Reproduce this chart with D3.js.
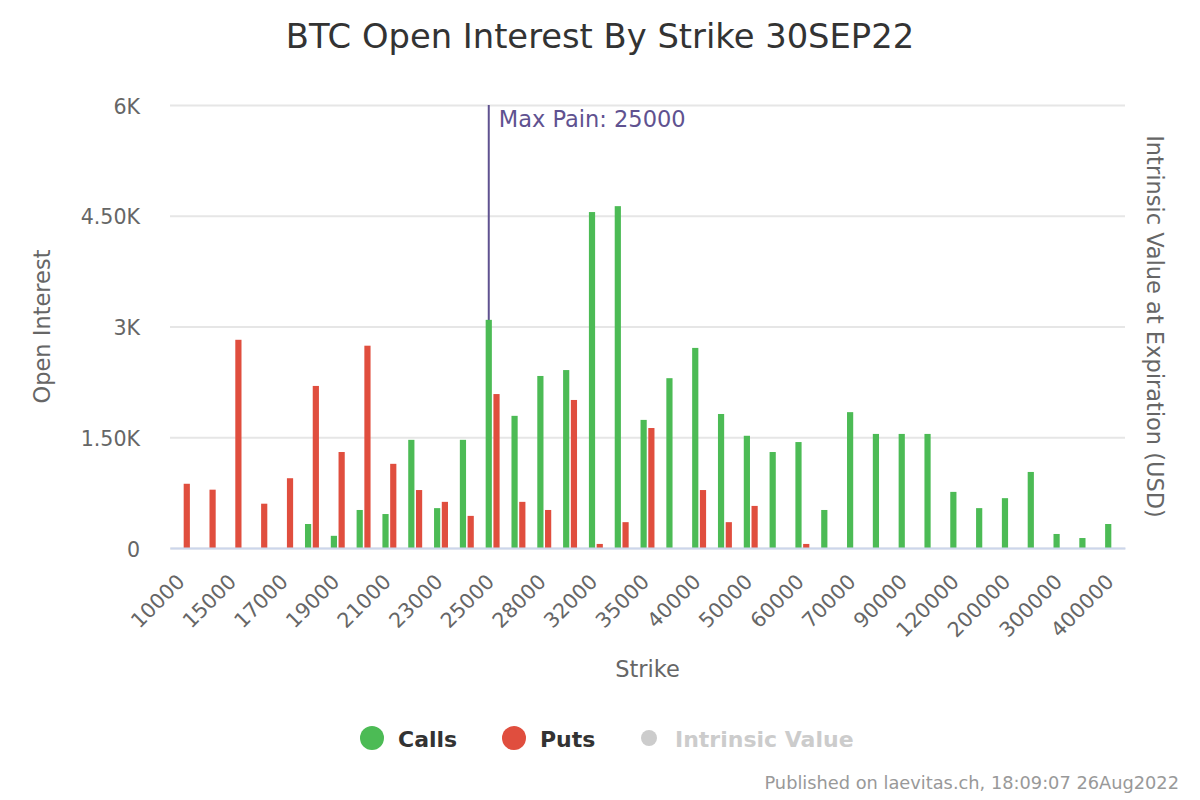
<!DOCTYPE html>
<html>
<head>
<meta charset="utf-8">
<title>BTC Open Interest By Strike 30SEP22</title>
<script src="https://cdn.jsdelivr.net/npm/d3@7"></script>
<style>
  body { margin: 0; background: #fff; }
  svg text { font-family: "DejaVu Sans", sans-serif; }
</style>
</head>
<body>
<script>
// strikes on the category axis
var strikes = [10000, 12000, 15000, 16000, 17000, 18000, 19000, 20000, 21000, 22000,
  23000, 24000, 25000, 26000, 28000, 30000, 32000, 34000, 35000, 36000,
  40000, 45000, 50000, 55000, 60000, 65000, 70000, 80000, 90000, 100000,
  120000, 150000, 200000, 250000, 300000, 350000, 400000]

// open interest
var calls = [0, 0, 0, 0, 0, 325, 165, 515, 460, 1465,
  540, 1465, 3090, 1790, 2330, 2410, 4550, 4630, 1735, 2300,
  2710, 1815, 1520, 1300, 1435, 515, 1840, 1545, 1545, 1545,
  760, 540, 675, 1030, 190, 135, 325]
var puts = [870, 790, 2820, 600, 945, 2195, 1300, 2740, 1140, 785,
  625, 435, 2085, 625, 515, 2005, 55, 350, 1625, 0,
  785, 350, 570, 0, 55, 0, 0, 0, 0, 0,
  0, 0, 0, 0, 0, 0, 0]

var yTicks = [0, 1500, 3000, 4500, 6000]
var yTickLabels = ["0", "1.50K", "3K", "4.50K", "6K"]
var maxPain = 25000
var seriesNames = ["Calls", "Puts", "Intrinsic Value"]

var W = 1200, H = 800
var plotL = 170, plotR = 1125, plotT = 105, plotB = 548
var green = "#4cbb55", red = "#e04e3e"

var svg = d3.select("body").append("svg").attr("width", W).attr("height", H)

var x0 = d3.scaleBand().domain(strikes).range([plotL, plotR])
var x1 = d3.scaleBand().domain(["calls", "puts"]).range([0, x0.bandwidth()])
  .paddingInner(0.2).paddingOuter(0.766)
var y = d3.scaleLinear().domain([0, 6000]).range([plotB, plotT])

// y axis + grid
var yAxis = svg.append("g").attr("transform", "translate(" + plotL + ",0)")
  .call(d3.axisLeft(y).tickValues(yTicks)
    .tickFormat(function(d, i) { return yTickLabels[i] })
    .tickSize(-(plotR - plotL)).tickPadding(30))
yAxis.select(".domain").remove()
yAxis.selectAll("line").attr("stroke", "#e6e6e6").attr("stroke-width", 2)
yAxis.selectAll("text").attr("fill", "#666").attr("dy", 8).style("font-size", "20.6px")

// max pain plot line (behind the bars)
var mpX = x0(maxPain) + x1("calls") + x1.bandwidth() / 2
svg.append("line")
  .attr("x1", mpX).attr("x2", mpX).attr("y1", plotT).attr("y2", plotB)
  .attr("stroke", "#5f5290").attr("stroke-width", 2)
svg.append("text")
  .attr("x", mpX + 10).attr("y", plotT + 22)
  .attr("fill", "#5f5290").style("font-size", "22.5px")
  .text("Max Pain: " + maxPain)

// bars
svg.selectAll(".call")
  .data(strikes)
  .enter()
  .append("rect")
  .attr("class", "call")
  .attr("x", function(d) { return x0(d) + x1("calls") })
  .attr("y", function(d, i) { return y(calls[i]) })
  .attr("width", x1.bandwidth())
  .attr("height", function(d, i) { return plotB - y(calls[i]) })
  .attr("fill", green)

svg.selectAll(".put")
  .data(strikes)
  .enter()
  .append("rect")
  .attr("class", "put")
  .attr("x", function(d) { return x0(d) + x1("puts") })
  .attr("y", function(d, i) { return y(puts[i]) })
  .attr("width", x1.bandwidth())
  .attr("height", function(d, i) { return plotB - y(puts[i]) })
  .attr("fill", red)

// x axis
var xAxis = svg.append("g").attr("transform", "translate(0," + plotB + ")")
  .call(d3.axisBottom(x0)
    .tickValues(strikes.filter(function(d, i) { return i % 2 == 0 }))
    .tickSize(0).tickSizeOuter(0))
xAxis.select(".domain").attr("stroke", "#ccd6eb").attr("stroke-width", 2)
xAxis.selectAll("text")
  .attr("fill", "#666").attr("y", 0).attr("dy", 0)
  .attr("text-anchor", "end")
  .attr("transform", "translate(3,35) rotate(-45)")
  .style("font-size", "20.6px")

// titles
svg.append("text").attr("x", 600).attr("y", 48).attr("text-anchor", "middle")
  .attr("fill", "#333").style("font-size", "33.75px")
  .text("BTC Open Interest By Strike 30SEP22")

svg.append("text").attr("x", (plotL + plotR) / 2).attr("y", 677).attr("text-anchor", "middle")
  .attr("fill", "#666").style("font-size", "22.5px").text("Strike")

svg.append("text").attr("transform", "translate(50," + (plotT + plotB) / 2 + ") rotate(-90)")
  .attr("text-anchor", "middle").attr("fill", "#666").style("font-size", "22.5px")
  .text("Open Interest")

svg.append("text").attr("transform", "translate(1147," + (plotT + plotB) / 2 + ") rotate(90)")
  .attr("text-anchor", "middle").attr("fill", "#666").style("font-size", "22.5px")
  .text("Intrinsic Value at Expiration (USD)")

// legend
var legendX = [372, 514, 649]
var legendColors = [green, red, "#cccccc"]
var legendR = [12, 12, 8]
var legend = svg.selectAll(".legend")
  .data(seriesNames)
  .enter()
  .append("g")
  .attr("class", "legend")
legend.append("circle")
  .attr("cx", function(d, i) { return legendX[i] })
  .attr("cy", 738)
  .attr("r", function(d, i) { return legendR[i] })
  .attr("fill", function(d, i) { return legendColors[i] })
legend.append("text")
  .attr("x", function(d, i) { return legendX[i] + 26 })
  .attr("y", 747)
  .attr("fill", function(d, i) { return i == 2 ? "#cccccc" : "#333" })
  .style("font-size", "22px").style("font-weight", "bold")
  .text(function(d) { return d })

// credits
svg.append("text").attr("x", 1179).attr("y", 789).attr("text-anchor", "end")
  .attr("fill", "#999").style("font-size", "17.8px")
  .text("Published on laevitas.ch, 18:09:07 26Aug2022")
</script>
</body>
</html>
